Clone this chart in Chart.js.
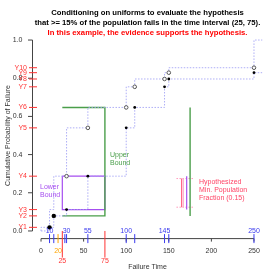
<!DOCTYPE html>
<html><head><meta charset="utf-8">
<script src="https://cdn.jsdelivr.net/npm/chart.js@4/dist/chart.umd.min.js"></script>
<style>html,body{margin:0;padding:0;background:#fff;}canvas{display:block;}</style>
</head><body>
<canvas id="c" width="280" height="280"></canvas>
<script>
// ---- data ----
const failTimes = [10, 15, 30, 55, 100, 110, 145, 150, 250];
const yVals = [0.019, 0.079, 0.112, 0.287, 0.540, 0.647, 0.755, 0.796, 0.829, 0.855];
const yNames = ['Y1','Y2','Y3','Y4','Y5','Y6','Y7','Y8','Y9','Y10'];
const blueTickVals = [10, 15, 28, 30, 55, 100, 110, 145, 150, 250];
const blueTickLabels = ['10', '', '', '30', '55', '100', '', '145', '', '250'];
const xTickVals = [0, 50, 100, 150, 200, 250];
const yTickVals = [0, 0.2, 0.4, 0.6, 0.8, 1.0];
const interval = [25, 75];
const hypFraction = 0.15;
const orangeTick = 20;
const hypLineX = [165, 167, 171, 175];
const titleLines = ['Conditioning on uniforms to evaluate the hypothesis',
  'that >= 15% of the population fails in the time interval (25, 75).'];
const subtitle = 'In this example, the evidence supports the hypothesis.';

// ---- derived series ----
const lowerStep = [{x:0,y:0}].concat(failTimes.map((t,i)=>({x:t,y:yVals[i]})), [{x:260,y:yVals[8]}]);
const openPts = failTimes.map((t,i)=>({x:t, y: i===0 ? yVals[0] : yVals[i+1]}));
const upperStep = [{x:0,y:0}].concat(openPts, [{x:260,y:1.0}]);
const filledPts = failTimes.map((t,i)=>({x:t,y:yVals[i]}));
const Ylo = yVals[2], Yhi = yVals[3], Ugl = yVals[1], Ugh = yVals[5];
const mid = (Ylo+Yhi)/2;
const greenBox = [{x:interval[0],y:Ugh},{x:interval[1],y:Ugh},{x:interval[1],y:Ugl},{x:interval[0],y:Ugl}];
const purpleBox = [{x:interval[0],y:Yhi},{x:interval[1],y:Yhi},{x:interval[1],y:Ylo},{x:interval[0],y:Ylo},{x:interval[0],y:Yhi}];
const dotCol = 'rgba(160,160,245,0.85)';
const green = '#4a9e4a', purple = '#a64ef0', redc = '#ff3333', pink = '#ff6688';

function seg(data, color, w, dash){
  return {type:'line', data, borderColor:color, borderWidth:w, borderDash:dash||[], pointRadius:0, fill:false, tension:0, order:2};
}

const ds = [
  Object.assign(seg(lowerStep, dotCol, 1, [1.5,1.5]), {stepped:'before'}),
  Object.assign(seg(upperStep, dotCol, 1, [1.5,1.5]), {stepped:'after'}),
  seg(greenBox, green, 1.4),
  seg(purpleBox, purple, 1.2),
  seg([{x:hypLineX[3],y:Ugl},{x:hypLineX[3],y:Ugh}], green, 1.4),
  seg([{x:hypLineX[2],y:Ylo},{x:hypLineX[2],y:Yhi}], purple, 1.2),
  seg([{x:hypLineX[0],y:mid-hypFraction/2},{x:hypLineX[0],y:mid+hypFraction/2}], pink, 1.2),
  seg([{x:hypLineX[1],y:mid-hypFraction/2},{x:hypLineX[1],y:mid+hypFraction/2}], '#ffaacc', 1.2),
  seg([{x:159,y:mid-hypFraction/2},{x:180,y:mid-hypFraction/2}], '#ff99bb', 1, [1.5,1.5]),
  seg([{x:159,y:mid+hypFraction/2},{x:180,y:mid+hypFraction/2}], '#ff99bb', 1, [1.5,1.5]),
  {type:'scatter', data:openPts.slice(2), pointRadius:1.8, pointBackgroundColor:'#fff', pointBorderColor:'#555', pointBorderWidth:1, showLine:false, order:1},
  {type:'scatter', data:filledPts, pointRadius:filledPts.map((p,i)=>i<2?2.2:1.4), pointBackgroundColor:'#000', pointBorderColor:'#000', pointBorderWidth:0, showLine:false, order:0}
];

const FONT = "'Liberation Sans', Arial, sans-serif";
const deco = {
  id:'deco',
  afterDraw(chart){
    const ctx = chart.ctx, xs = chart.scales.x, ys = chart.scales.y, ca = chart.chartArea;
    const X = v => xs.getPixelForValue(v), Y = v => ys.getPixelForValue(v);
    ctx.save();
    // title
    ctx.textAlign='center'; ctx.textBaseline='middle';
    const cx = (ca.left+ca.right)/2;
    ctx.font = 'bold 7.7px '+FONT; ctx.fillStyle='#000';
    ctx.fillText(titleLines[0], cx, 12.5);
    ctx.fillText(titleLines[1], cx, 22.5);
    ctx.fillStyle='#ff0000';
    ctx.fillText(subtitle, cx, 32.5);
    // y axis
    ctx.strokeStyle='#444'; ctx.lineWidth=1;
    ctx.beginPath(); ctx.moveTo(ca.left, Y(0)); ctx.lineTo(ca.left, Y(1)); ctx.stroke();
    ctx.font = '7px '+FONT; ctx.fillStyle='#333'; ctx.textAlign='right';
    yTickVals.forEach(v=>{
      ctx.beginPath(); ctx.moveTo(ca.left, Y(v)); ctx.lineTo(ca.left-4.5, Y(v)); ctx.stroke();
      ctx.fillText(v.toFixed(1), ca.left-10, Y(v));
    });
    // red Y labels
    ctx.strokeStyle=redc; ctx.fillStyle=redc;
    yVals.forEach((v,i)=>{
      ctx.beginPath(); ctx.moveTo(ca.left-3.5, Y(v)); ctx.lineTo(ca.left+4.5, Y(v)); ctx.stroke();
      ctx.fillText(yNames[i], ca.left-5.5, Y(v));
    });
    // x axis
    const xb = ca.bottom;
    ctx.strokeStyle='#444';
    ctx.beginPath(); ctx.moveTo(X(0), xb); ctx.lineTo(X(250), xb); ctx.stroke();
    ctx.fillStyle='#333'; ctx.textAlign='center';
    xTickVals.forEach(v=>{
      ctx.beginPath(); ctx.moveTo(X(v), xb); ctx.lineTo(X(v), xb+3); ctx.stroke();
      ctx.fillText(String(v), X(v), xb+12);
    });
    // blue ticks
    ctx.strokeStyle='#3a3aee'; ctx.fillStyle='#3a3aee';
    blueTickVals.forEach((v,i)=>{
      ctx.beginPath(); ctx.moveTo(X(v), xb-4.5); ctx.lineTo(X(v), xb+4.5); ctx.stroke();
      if (blueTickLabels[i]) ctx.fillText(blueTickLabels[i], X(v), xb-7.5);
    });
    // orange 20
    ctx.strokeStyle='#ffa500'; ctx.fillStyle='#ffa500';
    ctx.beginPath(); ctx.moveTo(X(orangeTick), xb-4.5); ctx.lineTo(X(orangeTick), xb+4.5); ctx.stroke();
    ctx.fillText(String(orangeTick), X(orangeTick), xb+12);
    // red interval lines
    ctx.strokeStyle=redc; ctx.fillStyle=redc;
    interval.forEach(v=>{
      ctx.beginPath(); ctx.moveTo(X(v), Y(0)); ctx.lineTo(X(v), xb+19); ctx.stroke();
      ctx.fillText(String(v), X(v), xb+22.5);
    });
    // axis titles
    ctx.fillStyle='#333';
    ctx.fillText('Failure Time', cx, 267.5);
    ctx.save(); ctx.translate(8, (Y(0)+Y(1))/2); ctx.rotate(-Math.PI/2);
    ctx.fillText('Cumulative Probability of Failure', 0, 0); ctx.restore();
    // annotations
    ctx.textAlign='left';
    ctx.fillStyle=green; ctx.fillText('Upper', 110, 155); ctx.fillText('Bound', 110, 163);
    ctx.fillStyle=purple; ctx.fillText('Lower', 40, 187); ctx.fillText('Bound', 40, 195);
    ctx.fillStyle='#ff4466';
    ctx.fillText('Hypothesized', 199, 182.5);
    ctx.fillText('Min. Population', 199, 190.3);
    ctx.fillText('Fraction (0.15)', 199, 198);
    ctx.restore();
  }
};

new Chart(document.getElementById('c'), {
  type:'scatter',
  data:{datasets:ds},
  options:{
    responsive:false, animation:false, devicePixelRatio:1,
    layout:{padding:{left:32.5, right:17.5, top:32.4, bottom:41.4}},
    plugins:{legend:{display:false}, tooltip:{enabled:false}, title:{display:false}},
    scales:{
      x:{type:'linear', min:-10, max:260, display:false},
      y:{type:'linear', min:-0.04, max:1.04, display:false}
    }
  },
  plugins:[deco]
});
</script>
</body></html>
